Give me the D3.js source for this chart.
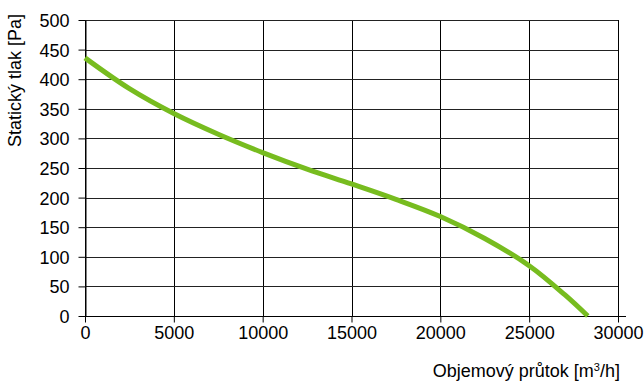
<!DOCTYPE html>
<html>
<head>
<meta charset="utf-8">
<script src="https://cdn.jsdelivr.net/npm/d3@7"></script>
<style>
  body { margin: 0; background: #fff; }
  text { font-family: "Liberation Sans", Arial, sans-serif; fill: #000; }
</style>
</head>
<body>
<div id="chart"></div>
<script>
// Fan curve: airflow [m3/h] vs static pressure [Pa]
const flow = [0, 2500, 5000, 7500, 10000, 12500, 15000, 17500, 20000, 22500, 25000, 27000, 28300];
const pressure = [436, 384, 342, 307, 276, 248, 223, 197, 168, 131, 85, 36, 0];
const xTicks = [0, 5000, 10000, 15000, 20000, 25000, 30000];
const yTicks = [0, 50, 100, 150, 200, 250, 300, 350, 400, 450, 500];

const width = 644, height = 382;
const margin = { top: 20, right: 26, bottom: 66, left: 85 };
const w = 618 - margin.left;
const h = 316 - margin.top;
const fontSize = "18px";

const svg = d3.select("#chart")
    .append("svg")
    .attr("width", width)
    .attr("height", height)
    .append("g")
    .attr("transform", "translate(" + margin.left + "," + margin.top + ")");

const x = d3.scaleLinear().domain([0, 30000]).range([0, w]);
const y = d3.scaleLinear().domain([0, 500]).range([h, 0]);

// grid
svg.append("g")
    .selectAll("line")
    .data(xTicks)
    .join("line")
    .attr("x1", d => Math.round(x(d)) + 0.5)
    .attr("x2", d => Math.round(x(d)) + 0.5)
    .attr("y1", 0)
    .attr("y2", h)
    .attr("stroke", "#000");

svg.append("g")
    .selectAll("line")
    .data(yTicks)
    .join("line")
    .attr("x1", 0)
    .attr("x2", w)
    .attr("y1", d => Math.round(y(d)) + 0.5)
    .attr("y2", d => Math.round(y(d)) + 0.5)
    .attr("stroke", "#222");

// axes
const xAxis = d3.axisBottom(x).tickValues(xTicks).tickFormat(d3.format("d"))
    .tickSize(6).tickSizeOuter(0).tickPadding(4);
const yAxis = d3.axisLeft(y).tickValues(yTicks).tickSize(7).tickSizeOuter(0).tickPadding(9);

const gx = svg.append("g")
    .attr("transform", "translate(0," + (Math.round(h) + 0.5) + ")")
    .call(xAxis);
gx.select(".domain").attr("d", "M0,0H" + (w + 8)).attr("stroke", "#000");

const gy = svg.append("g")
    .attr("transform", "translate(0.5,0)")
    .call(yAxis);
gy.select(".domain").attr("stroke", "#000");

svg.selectAll(".tick text")
    .style("font-size", fontSize)
    .style("font-family", "Liberation Sans, Arial, sans-serif");
gy.selectAll(".tick text").attr("dy", "0.36em");

// curve
svg.append("path")
    .datum(flow.map((f, i) => [f, pressure[i]]))
    .attr("fill", "none")
    .attr("stroke", "#77bc1f")
    .attr("stroke-width", 5)
    .attr("d", d3.line().x(d => x(d[0])).y(d => y(d[1])).curve(d3.curveCatmullRom.alpha(0.5)));

// axis titles
svg.append("text")
    .attr("transform", "rotate(-90)")
    .attr("x", 6)
    .attr("y", -margin.left + 21)
    .style("text-anchor", "end")
    .style("font-size", fontSize)
    .text("Statický tlak [Pa]");

const xt = svg.append("text")
    .attr("x", w + 2)
    .attr("y", h + 61)
    .style("text-anchor", "end")
    .style("font-size", fontSize);
xt.append("tspan").text("Objemový průtok [m");
xt.append("tspan").attr("dy", -6).style("font-size", "11px").text("3");
xt.append("tspan").attr("dy", 6).text("/h]");
</script>
</body>
</html>
